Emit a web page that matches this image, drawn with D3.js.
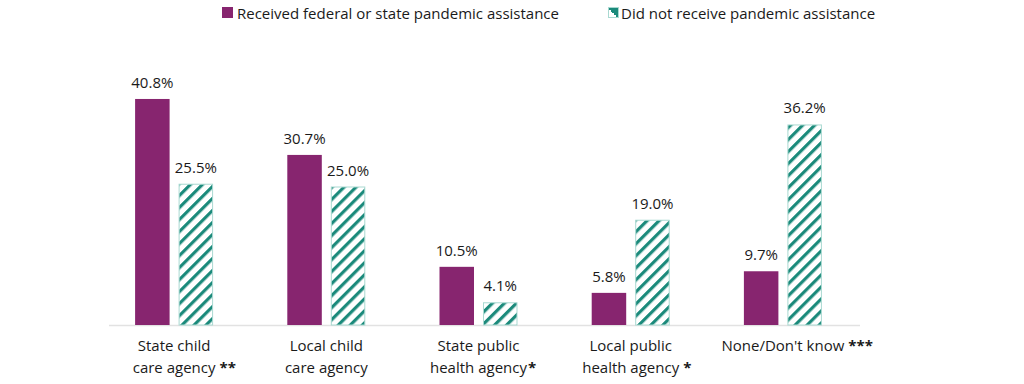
<!DOCTYPE html>
<html><head><meta charset="utf-8">
<script src="https://cdn.jsdelivr.net/npm/d3@7/dist/d3.min.js"></script>
<style>
html,body{margin:0;padding:0;background:#fff;}
text{font-family:"Open Sans",sans-serif;fill:#1a1a1a;}
</style></head>
<body><svg id="c" width="1024" height="384"></svg>
<script>
const categories = [["State child","care agency"],["Local child","care agency"],["State public","health agency"],["Local public","health agency"],["None/Don't know"]];
const significance = ["**","","*","*","***"];
const sigGap = [4, 0, 1, 4, 4];
const catKeys = ["scca","lcca","spha","lpha","none"];
const seriesNames = ["Received federal or state pandemic assistance","Did not receive pandemic assistance"];
const received = [40.8, 30.7, 10.5, 5.8, 9.7];
const notReceived = [25.5, 25.0, 4.1, 19.0, 36.2];
const valueLabels = [["40.8%","30.7%","10.5%","5.8%","9.7%"],["25.5%","25.0%","4.1%","19.0%","36.2%"]];

const purple = "#87256f", teal = "#1b8a7b", tealBorder = "#a9d9d1";
const svg = d3.select("#c");
const defs = svg.append("defs");
const pat = defs.append("pattern").attr("id","hatch").attr("patternUnits","userSpaceOnUse")
  .attr("width",8.5).attr("height",8.5).attr("patternTransform","rotate(45)");
pat.append("rect").attr("width",8.5).attr("height",8.5).attr("fill","#fff");
pat.append("rect").attr("x",0).attr("width",3.2).attr("height",8.5).attr("fill",teal);

const x0 = d3.scaleBand().domain(catKeys).range([98, 859]).padding(0);
const x1 = d3.scaleBand().domain([0,1]).range([-39, 39]).paddingInner(0.207).paddingOuter(0);
const y = d3.scaleLinear().domain([0, 45]).range([325, 325 - 45*5.54]);

const series = [received, notReceived];
svg.append("line").attr("x1",109).attr("x2",860).attr("y1",y(0)+0.5).attr("y2",y(0)+0.5)
  .attr("stroke","#e2e2e2").attr("stroke-width",1.5);

series.forEach((vals, s) => {
  const g = svg.append("g");
  g.selectAll("rect").data(vals).join("rect")
    .attr("x",(d,i)=>x0(catKeys[i]) + x0.bandwidth()/2 + x1(s) + (s?0.5:0))
    .attr("y",d=>y(d) + (s?0.5:0))
    .attr("width",x1.bandwidth() - (s?1:0))
    .attr("height",d=>y(0)-y(d) - (s?0.5:0))
    .attr("fill", s ? "url(#hatch)" : purple)
    .attr("stroke", s ? tealBorder : "none").attr("stroke-width",1);
  g.selectAll("text").data(vals).join("text")
    .attr("x",(d,i)=>x0(catKeys[i]) + x0.bandwidth()/2 + x1(s) + x1.bandwidth()/2)
    .attr("y",d=>y(d)-11)
    .attr("text-anchor","middle").attr("font-size",15)
    .text((d,i)=>valueLabels[s][i]);
});

categories.forEach((lines,i)=>{
  const cx = x0(catKeys[i]) + x0.bandwidth()/2;
  lines.forEach((ln,j)=>{
    const yy = 351 + j*22;
    const t = svg.append("text").attr("text-anchor","middle").attr("font-size",15)
      .attr("x", cx).attr("y", yy).text(ln);
    if (j === lines.length-1 && significance[i]) {
      const w = t.node().getComputedTextLength();
      svg.append("text").attr("font-size",15).attr("font-weight","bold")
        .attr("x", cx + w/2 + sigGap[i]).attr("y", yy).text(significance[i]);
    }
  });
});

const leg = svg.append("g");
leg.append("rect").attr("x",222).attr("y",7).attr("width",11).attr("height",11).attr("fill",purple);
leg.append("text").attr("x",237).attr("y",18.5).attr("font-size",15).text(seriesNames[0]);
const lp = defs.append("linearGradient").attr("id","lg").attr("x1","0").attr("y1","1").attr("x2","1").attr("y2","0");
lp.append("stop").attr("offset","0.45").attr("stop-color","#fff");
lp.append("stop").attr("offset","0.45").attr("stop-color",teal);
leg.append("rect").attr("x",608.5).attr("y",7.5).attr("width",10).attr("height",10).attr("fill","url(#lg)").attr("stroke",tealBorder);
leg.append("text").attr("x",621).attr("y",18.5).attr("font-size",15).text(seriesNames[1]);
</script></body></html>
